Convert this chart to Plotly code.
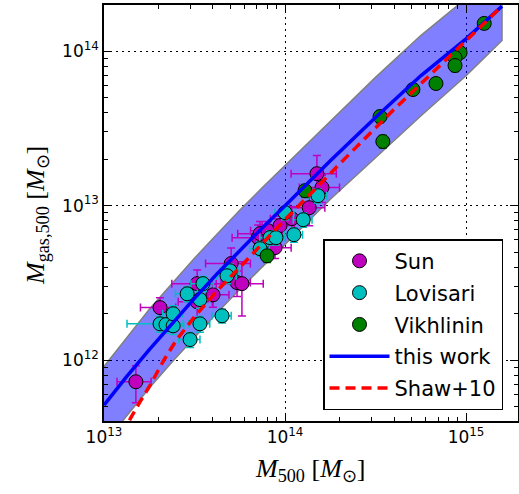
import plotly.graph_objects as go

# ---------------- data ----------------
sun_m500 = [1.50e13, 2.04e13, 3.27e13, 3.27e13, 4.00e13, 5.04e13, 5.43e13, 5.78e13,
            7.10e13, 7.28e13, 8.05e13, 8.81e13, 9.38e13, 1.09e14, 1.36e14, 1.60e14, 1.50e14]
sun_mgas = [7.26e11, 2.19e12, 3.13e12, 2.39e12, 2.65e12, 4.22e12, 3.18e12, 3.13e12,
            6.21e12, 6.59e12, 6.89e12, 5.35e12, 7.43e12, 8.24e12, 9.70e12, 1.31e13, 1.61e13]
sun_m500_err = [0.32e13, 0.45e13, 0.9e13, 0.7e13, 0.9e13, 1.4e13, 1.0e13, 1.8e13,
                2.0e13, 1.8e13, 1.6e13, 2.0e13, 1.9e13, 2.6e13, 3.0e13, 4.0e13, 4.2e13]
sun_mgas_err = [1.95e11, 0.35e12, 0.7e12, 0.5e12, 0.45e12, 1.1e12, 0.6e12, 1.2e12,
                1.3e12, 1.3e12, 1.0e12, 0.8e12, 1.1e12, 1.6e12, 2.3e12, 2.6e12, 5.0e12]

lov_m500 = [2.04e13, 2.20e13, 2.41e13, 2.41e13, 2.99e13, 3.39e13, 3.39e13, 2.88e13, 3.52e13,
            4.49e13, 4.97e13, 4.78e13, 7.28e13, 8.26e13, 8.91e13, 1.00e14, 1.12e14, 1.26e14, 1.52e14]
lov_mgas = [1.72e12, 1.70e12, 1.67e12, 2.00e12, 1.36e12, 1.72e12, 2.47e12, 2.69e12, 3.13e12,
            1.94e12, 3.79e12, 3.52e12, 5.27e12, 6.21e12, 6.21e12, 9.01e12, 6.49e12, 8.11e12, 1.16e13]
lov_m500_err = [0.7e13, 0.3e13, 0.35e13, 0.3e13, 0.4e13, 0.45e13, 0.45e13, 0.4e13, 0.5e13,
                0.55e13, 0.6e13, 0.6e13, 0.9e13, 1.0e13, 1.1e13, 1.2e13, 1.3e13, 1.5e13, 1.8e13]
lov_mgas_err = [0.2e12, 0.2e12, 0.2e12, 0.25e12, 0.15e12, 0.2e12, 0.3e12, 0.3e12, 0.35e12,
                0.2e12, 0.4e12, 0.4e12, 0.55e12, 0.65e12, 0.65e12, 0.9e12, 0.7e12, 0.85e12, 1.2e12]

vik_m500 = [1.26e15, 9.27e14, 8.69e14, 8.69e14, 6.82e14, 5.09e14, 3.35e14, 3.47e14, 1.29e14, 7.96e13]
vik_mgas = [1.51e14, 9.77e13, 9.08e13, 8.06e13, 6.17e13, 5.64e13, 3.77e13, 2.60e13, 1.25e13, 4.74e12]
vik_m500_err = [0.7e14, 0.5e14, 0.45e14, 0.45e14, 0.35e14, 0.25e14, 0.2e14, 0.2e14, 0.07e14, 0.04e14]
vik_mgas_err = [0.12e14, 0.08e14, 0.07e14, 0.07e14, 0.05e14, 0.04e14, 0.035e14, 0.025e14, 0.12e13, 0.45e12]

fit_m500 = [1.0e13, 1.33e13, 1.78e13, 2.37e13, 3.16e13, 4.22e13, 5.62e13, 7.50e13, 1.0e14,
            1.78e14, 3.16e14, 5.62e14, 1.0e15, 1.58e15]
fit_mgas = [5.13e11, 7.80e11, 1.17e12, 1.72e12, 2.51e12, 3.63e12, 5.13e12, 7.20e12, 1.0e13,
            1.95e13, 3.72e13, 6.92e13, 1.20e14, 1.95e14]
band_upper = [9.12e11, 1.39e12, 2.14e12, 3.13e12, 4.57e12, 6.55e12, 9.33e12, 1.31e13, 1.82e13,
              3.55e13, 6.76e13, 1.26e14, 2.19e14, 3.55e14]
band_lower = [2.88e11, 4.40e11, 6.61e11, 9.70e11, 1.41e12, 2.03e12, 2.88e12, 4.05e12, 5.62e12,
              1.10e13, 2.04e13, 3.80e13, 6.92e13, 1.17e14]

shaw_m500 = [1.26e13, 1.41e13, 1.58e13, 1.78e13, 2.14e13, 2.51e13, 3.16e13, 4.22e13, 5.62e13,
             7.50e13, 1.0e14, 1.41e14, 2.0e14, 3.98e14, 1.0e15, 1.58e15]
shaw_mgas = [3.31e11, 4.27e11, 5.37e11, 6.76e11, 1.0e12, 1.35e12, 1.91e12, 2.82e12, 3.98e12,
             5.70e12, 8.13e12, 1.22e13, 1.86e13, 4.17e13, 1.17e14, 1.95e14]

x_tickvals = [1e13, 1e14, 1e15]
x_ticktext = ["10<sup>13</sup>", "10<sup>14</sup>", "10<sup>15</sup>"]
y_tickvals = [1e12, 1e13, 1e14]
y_ticktext = ["10<sup>12</sup>", "10<sup>13</sup>", "10<sup>14</sup>"]

SUN_C = "#bf00bf"
LOV_C = "#00bfbf"
VIK_C = "#008000"

fig = go.Figure()

# shaded band
fig.add_trace(go.Scatter(
    x=fit_m500 + fit_m500[::-1], y=band_upper + band_lower[::-1],
    fill="toself", fillcolor="rgba(0,0,255,0.5)",
    line=dict(color="#808080", width=1.5), mode="lines",
    showlegend=False, hoverinfo="skip"))


def pts(name, x, y, ex, ey, color):
    return go.Scatter(
        x=x, y=y, name=name, mode="markers", legendgroup=name,
        marker=dict(size=14, color=color, line=dict(color="black", width=1)),
        error_x=dict(type="data", array=ex, color=color, thickness=1.5, width=4),
        error_y=dict(type="data", array=ey, color=color, thickness=1.5, width=4),
    )


fig.add_trace(pts("Sun", sun_m500, sun_mgas, sun_m500_err, sun_mgas_err, SUN_C))
fig.add_trace(pts("Lovisari", lov_m500, lov_mgas, lov_m500_err, lov_mgas_err, LOV_C))
fig.add_trace(pts("Vikhlinin", vik_m500, vik_mgas, vik_m500_err, vik_mgas_err, VIK_C))

fig.add_trace(go.Scatter(x=fit_m500, y=fit_mgas, name="this work", mode="lines",
                         legendgroup="this work",
                         line=dict(color="blue", width=3.5)))
fig.add_trace(go.Scatter(x=shaw_m500, y=shaw_mgas, name="Shaw+10", mode="lines",
                         legendgroup="Shaw+10",
                         line=dict(color="red", width=3.5, dash="10px,6px")))


def minor_vals(lo, hi):
    out = []
    for e in range(lo, hi + 1):
        for m in range(2, 10):
            out.append(m * 10.0 ** e)
    return out


axis_common = dict(
    type="log", showline=True, linecolor="black", linewidth=1.5, mirror="allticks",
    ticks="inside", ticklen=8, tickwidth=1, tickcolor="black",
    showgrid=True, gridcolor="black", gridwidth=1, griddash="2px,4px",
    zeroline=False, automargin=False,
    tickfont=dict(family="DejaVu Sans", size=17, color="black"),
)

fig.update_xaxes(**axis_common, range=[13, 15.287], tickvals=x_tickvals, ticktext=x_ticktext,
                 minor=dict(tickvals=minor_vals(13, 15), ticks="inside", ticklen=4,
                            tickcolor="black", showgrid=False))
fig.update_yaxes(**axis_common, range=[11.607, 14.298], tickvals=y_tickvals, ticktext=y_ticktext,
                 minor=dict(tickvals=minor_vals(11, 14), ticks="inside", ticklen=4,
                            tickcolor="black", showgrid=False))

fig.update_layout(
    width=519, height=494,
    margin=dict(l=104, r=1, t=5, b=73),
    plot_bgcolor="white", paper_bgcolor="white",
    font=dict(family="DejaVu Sans", size=17, color="black"),
    legend=dict(x=0.529, y=0.026, xanchor="left", yanchor="bottom",
                bordercolor="black", borderwidth=1.5, bgcolor="white",
                font=dict(family="DejaVu Sans", size=21, color="black"),
                itemwidth=60, tracegroupgap=1.5, traceorder="grouped"),
    annotations=[
        dict(text="<i>M</i><sub>500</sub> [<i>M</i><sub>⊙</sub>]", xref="paper", yref="paper",
             x=0.498, y=-0.118, xanchor="center", yanchor="middle", showarrow=False,
             font=dict(family="Liberation Serif", size=26, color="black")),
        dict(text="<i>M</i><sub>gas,500</sub> [<i>M</i><sub>⊙</sub>]", xref="paper", yref="paper",
             x=-0.162, y=0.495, xanchor="center", yanchor="middle", showarrow=False,
             textangle=-90, font=dict(family="Liberation Serif", size=26, color="black")),
    ],
)

fig.write_html("out.html", config={"displayModeBar": False},
               post_script="document.body.style.margin='0';document.body.style.overflow='hidden';")
